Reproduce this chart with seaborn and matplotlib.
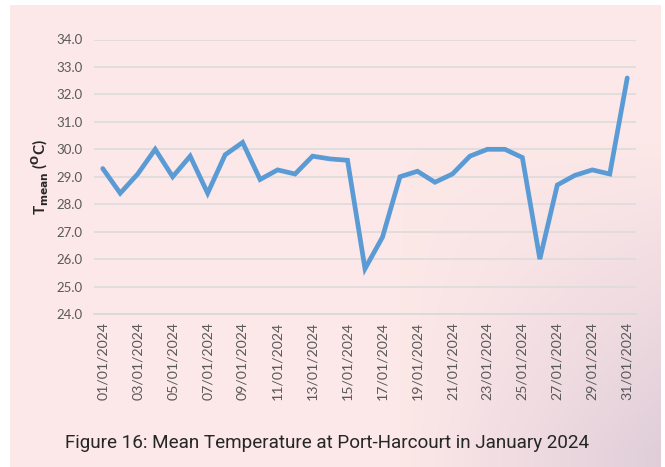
import numpy as np
import pandas as pd
import seaborn as sns
import matplotlib.pyplot as plt

# Datas e temperaturas medias (janeiro 2024)
dias = [f"{d:02d}/01/2024" for d in range(1, 32)]
temperatura = [29.3, 28.4, 29.1, 30.0, 29.0, 29.75, 28.4, 29.8, 30.25, 28.9,
               29.25, 29.1, 29.75, 29.65, 29.6, 25.65, 26.8, 29.0, 29.2, 28.8,
               29.1, 29.75, 30.0, 30.0, 29.7, 26.0, 28.7, 29.05, 29.25, 29.1, 32.6]
y_ticks = [24, 25, 26, 27, 28, 29, 30, 31, 32, 33, 34]

dados = pd.DataFrame({"pos": range(len(dias)), "dia": dias, "T": temperatura})

sns.set_style("white")
plt.rcParams["font.family"] = ["Lato", "DejaVu Sans"]

fig = plt.figure(figsize=(6.65, 4.67), dpi=100)
fig.patch.set_facecolor("white")

# fundo rosa com leve degradê no canto inferior direito
bg = fig.add_axes([10 / 665, 0, 651 / 665, 462 / 467])
bg.set_axis_off()
yy, xx = np.mgrid[0:1:200j, 0:1:300j]
w = np.clip((xx - 0.6) * 1.8, 0, 1) * np.clip((yy - 0.3) * 1.5, 0, 1)
w = np.clip(w * 1.2, 0, 1)
base = np.array([0.992, 0.910, 0.910])
cloud = np.array([0.86, 0.79, 0.84])
img = base[None, None, :] * (1 - w[..., None]) + cloud[None, None, :] * w[..., None]
bg.imshow(img[::-1], aspect="auto", extent=[0, 1, 0, 1], origin="lower")

ax = fig.add_axes([94 / 665, 1 - 314 / 467, 542 / 665, 274.5 / 467])
ax.set_facecolor("none")

sns.lineplot(data=dados, x="pos", y="T", ax=ax, color="#5b9bd5", linewidth=3.4,
             solid_joinstyle="miter", solid_capstyle="round")

ax.set_xlim(-0.5, len(dias) - 0.5)
ax.set_ylim(24, 34)
ax.set_yticks(y_ticks)
ax.set_yticklabels([f"{v:.1f}" for v in y_ticks], color="#595959", fontsize=9.5)
ax.set_xticks(range(0, len(dias), 2))
ax.set_xticklabels(dias[::2], rotation=90, color="#595959", fontsize=10.2)
ax.set_xticks(np.arange(-0.5, len(dias), 2), minor=True)
ax.tick_params(axis="x", which="major", length=0, pad=6)
ax.tick_params(axis="x", which="minor", length=4, color="#d9d9d9", width=1.2)
ax.tick_params(axis="y", length=0, pad=8)

ax.grid(axis="y", color="#e0dcdc", linewidth=1.3)
ax.set_axisbelow(True)
for s in ["top", "right", "left"]:
    ax.spines[s].set_visible(False)
ax.spines["bottom"].set_color("#d9d9d9")
ax.spines["bottom"].set_linewidth(1.3)

ax.set_xlabel("")
ax.set_ylabel(r"T$_{\mathbf{mean}}$ ($^{\mathbf{O}}$C)", fontsize=11, fontweight="bold",
              color="#262626", labelpad=4)

fig.text(327 / 665, 1 - 443 / 467, "Figure 16: Mean Temperature at Port-Harcourt in January 2024",
         ha="center", va="center", fontsize=13.6, color="#262626",
         family=["Roboto", "DejaVu Sans"])

plt.savefig("out.png", dpi=100)
